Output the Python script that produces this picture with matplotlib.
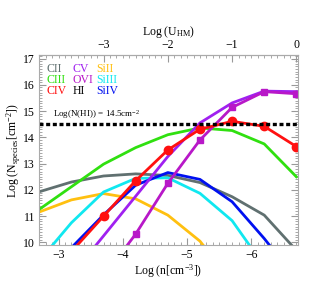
import numpy as np
import matplotlib
matplotlib.use('Agg')
import matplotlib.pyplot as plt
from matplotlib.ticker import MultipleLocator, FixedLocator

plt.rcParams['font.family'] = ['Liberation Serif', 'DejaVu Serif']
plt.rcParams['mathtext.fontset'] = 'custom'
plt.rcParams['mathtext.rm'] = 'Liberation Serif'
plt.rcParams['mathtext.it'] = 'Liberation Serif'

# log n grid (cm^-3)
logn = [-2.7, -3.2, -3.7, -4.2, -4.7, -5.2, -5.7, -6.2, -6.7]

CII = [11.93, 12.30, 12.53, 12.61, 12.55, 12.28, 11.74, 11.04, 9.70]
CIII = [11.26, 12.12, 12.98, 13.61, 14.10, 14.36, 14.26, 13.75, 12.50]
CIV = [8.30, 9.65, 11.00, 12.35, 13.52, 14.31, 14.61, 14.42, 13.65]
CV = [7.30, 8.75, 10.25, 11.76, 13.27, 14.55, 15.31, 15.76, 15.74]
OVI = [5.60, 7.10, 8.70, 10.32, 12.25, 13.90, 15.14, 15.74, 15.66]
SiII = [11.16, 11.62, 11.86, 11.66, 11.04, 10.05, 8.50, 7.00, 5.50]
SiIII = [9.30, 10.75, 11.92, 12.44, 12.46, 11.87, 10.83, 9.10, 7.50]
SiIV = [8.50, 9.80, 11.05, 12.18, 12.66, 12.40, 11.55, 10.15, 8.60]
HI_level = 14.5
U_ticks = [-3, -2, -1, 0]

fig = plt.figure(figsize=(3.3, 2.84), dpi=100)
ax = fig.add_axes([0.119, 0.137, 0.783, 0.668])

lw = 2.0
ax.plot(logn, CII, color='#607070', lw=lw)
ax.plot(logn, SiII, color='#ffc010', lw=lw)
ax.plot(logn, SiIII, color='#10e8f0', lw=lw)
ax.plot(logn, CIII, color='#30e010', lw=lw)
ax.plot(logn, SiIV, color='#0010f0', lw=lw)
ax.plot(logn, CV, color='#a020f0', lw=lw)
ax.plot(logn, OVI, color='#b818c8', lw=lw, marker='s', ms=4.5)
ax.plot(logn, CIV, color='#ff1010', lw=lw, marker='o', ms=6)

hl = ax.axhline(HI_level, color='black', lw=2.4)
hl.set_dashes((1.2, 0.8))
ax.text(-2.91, 14.86, 'Log(N(HI)) = 14.5cm$^{-2}$', fontsize=6.5, va='center', ha='left')

# legend as text
legend = [('CII', '#607070'), ('CIII', '#30e010'), ('CIV', '#ff1010'),
          ('CV', '#a020f0'), ('OVI', '#b818c8'), ('HI', 'black'),
          ('SiII', '#ffc010'), ('SiIII', '#10e8f0'), ('SiIV', '#0010f0')]
cols = [0.029, 0.129, 0.222]
rows = [0.928, 0.87, 0.81]
for i, (name, c) in enumerate(legend):
    ax.text(cols[i // 3], rows[i % 3], name, color=c, fontsize=8.5,
            transform=ax.transAxes, va='center', ha='left')

ax.set_xlim(-2.7, -6.72)
ax.set_ylim(9.9, 17.12)
ax.xaxis.set_major_locator(MultipleLocator(1))
ax.xaxis.set_minor_locator(MultipleLocator(0.1))
ax.yaxis.set_major_locator(MultipleLocator(1))
ax.yaxis.set_minor_locator(MultipleLocator(0.1))
ax.tick_params(which='both', direction='in', color='#999999', labelsize=8.5,
               right=True, top=False, pad=3)
ax.tick_params(which='major', length=5)
ax.tick_params(which='minor', length=2.5)
for s in ax.spines.values():
    s.set_color('#aaaaaa')

sec = ax.secondary_xaxis('top', functions=(lambda x: -6.7 - x, lambda u: -6.7 - u))
sec.xaxis.set_major_locator(FixedLocator(U_ticks))
sec.xaxis.set_minor_locator(MultipleLocator(0.1))
sec.tick_params(which='both', direction='in', color='#999999', labelsize=8.5, pad=3)
sec.tick_params(which='major', length=5)
sec.tick_params(which='minor', length=2.5)
sec.spines['top'].set_color('#aaaaaa')
sec.set_xlabel('Log (U$_{\\rm HM}$)', fontsize=8.5, labelpad=3)

ax.set_xlabel('Log (n[cm$^{-3}$])', fontsize=8.5, labelpad=1)
ax.set_ylabel('Log (N$_{\\rm species}$[cm$^{-2}$])', fontsize=8.5, labelpad=0)

fig.savefig('out.png', dpi=100)
